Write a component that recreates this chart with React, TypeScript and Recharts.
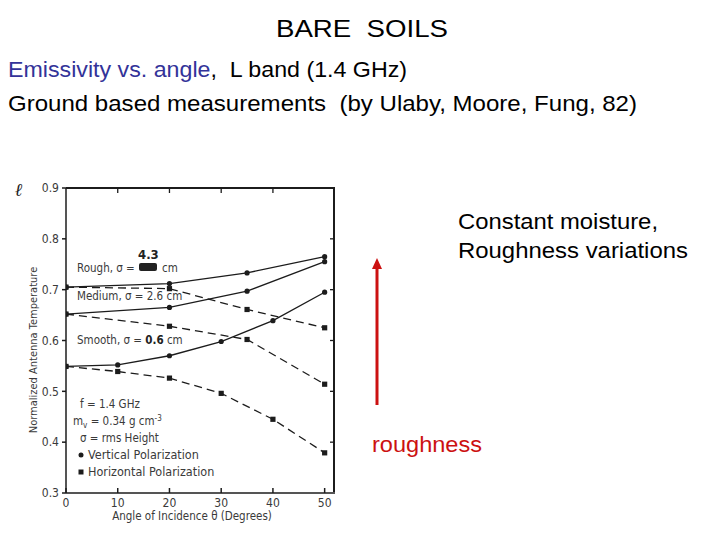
import React from 'react';
import { LineChart, Line, XAxis, YAxis } from 'recharts';

// ---- data ----
const ANGLES_SPARSE = [0, 20, 35, 50];
const ANGLES_FULL = [0, 10, 20, 30, 40, 50];
const ROUGH_V = [0.705, 0.712, 0.733, 0.765];
const ROUGH_H = [0.705, 0.702, 0.661, 0.625];
const MEDIUM_V = [0.652, 0.665, 0.697, 0.755];
const MEDIUM_H = [0.652, 0.628, 0.602, 0.514];
const SMOOTH_V = [0.549, 0.552, 0.57, 0.598, 0.639, 0.695];
const SMOOTH_H = [0.549, 0.539, 0.526, 0.496, 0.445, 0.379];
const X_TICKS = [0, 10, 20, 30, 40, 50];
const Y_TICKS = [0.3, 0.4, 0.5, 0.6, 0.7, 0.8, 0.9];
const X_MAX = 52;
const Y_MIN = 0.3;
const Y_MAX = 0.9;

const toRows = (angles: number[], vals: number[]) => angles.map((a, i) => ({ angle: a, v: vals[i] }));

// layout of the plot box
const CW = 720;
const CH = 540;
const MARGIN = { top: 188, right: 385, bottom: 17, left: 26 };
const Y_AXIS_W = 40;
const X_AXIS_H = 30;
const PL = MARGIN.left + Y_AXIS_W;
const PR = CW - MARGIN.right;
const PT = MARGIN.top;
const PB = CH - MARGIN.bottom - X_AXIS_H;
const sx = (v: number) => PL + (v / X_MAX) * (PR - PL);
const sy = (v: number) => PB - ((v - Y_MIN) / (Y_MAX - Y_MIN)) * (PB - PT);

const INK = '#1c1c1c';
const GREY = '#3a3a3a';
const COND = "'DejaVu Sans Condensed', 'Liberation Sans Narrow', 'DejaVu Sans', sans-serif";
const ARIAL = "'Liberation Sans', Arial, sans-serif";

const Dot = (p: any) => {
  if (p.cx == null || p.cy == null) return null;
  return <circle key={`c${p.index}`} cx={p.cx} cy={p.cy} r={2.6} fill={INK} />;
};
const Sq = (p: any) => {
  if (p.cx == null || p.cy == null) return null;
  return <rect key={`s${p.index}`} x={p.cx - 2.6} y={p.cy - 2.6} width={5.2} height={5.2} fill={INK} />;
};

const series = [
  { name: 'roughV', data: toRows(ANGLES_SPARSE, ROUGH_V), h: false },
  { name: 'roughH', data: toRows(ANGLES_SPARSE, ROUGH_H), h: true },
  { name: 'mediumV', data: toRows(ANGLES_SPARSE, MEDIUM_V), h: false },
  { name: 'mediumH', data: toRows(ANGLES_SPARSE, MEDIUM_H), h: true },
  { name: 'smoothV', data: toRows(ANGLES_FULL, SMOOTH_V), h: false },
  { name: 'smoothH', data: toRows(ANGLES_FULL, SMOOTH_H), h: true },
];

export default function App() {
  const tickStyle = { fontSize: 12, fill: GREY, fontFamily: COND };
  return (
    <div style={{ position: 'absolute', left: 0, top: 0, width: CW, height: CH, background: '#fff' }}>
      <LineChart width={CW} height={CH} margin={MARGIN}>
        <XAxis
          dataKey="angle"
          type="number"
          domain={[0, X_MAX]}
          allowDataOverflow
          ticks={X_TICKS}
          height={X_AXIS_H}
          tickSize={-5}
          tickMargin={10}
          stroke={INK}
          strokeWidth={1.5}
          tick={tickStyle}
        />
        <YAxis
          type="number"
          domain={[Y_MIN, Y_MAX]}
          allowDataOverflow
          ticks={Y_TICKS}
          width={Y_AXIS_W}
          tickSize={4}
          tickMargin={3}
          tickFormatter={(v: number) => v.toFixed(1)}
          stroke={INK}
          strokeWidth={1.5}
          tick={tickStyle}
        />
        {series.map((s) => (
          <Line
            key={s.name}
            data={s.data}
            dataKey="v"
            type="linear"
            stroke={INK}
            strokeWidth={1.3}
            strokeDasharray={s.h ? '8 5' : undefined}
            dot={s.h ? Sq : Dot}
            activeDot={false}
            isAnimationActive={false}
            connectNulls
          />
        ))}
      </LineChart>

      {/* top and right borders of the plot box */}
      <div
        style={{
          position: 'absolute',
          left: PL,
          top: PT - 1,
          width: PR - PL,
          height: PB - PT,
          borderTop: `2px solid ${INK}`,
          borderRight: `2px solid ${INK}`,
          boxSizing: 'border-box',
          pointerEvents: 'none',
        }}
      />

      <svg width={CW} height={CH} style={{ position: 'absolute', left: 0, top: 0, pointerEvents: 'none' }}>
        {X_TICKS.slice(1, 5).map((t) => (
          <line key={`tt${t}`} x1={sx(t)} x2={sx(t)} y1={PT} y2={PT + 5} stroke={INK} strokeWidth={1.3} />
        ))}
        {Y_TICKS.slice(1, 6).map((t) => (
          <line key={`rt${t}`} x1={PR} x2={PR - 5} y1={sy(t)} y2={sy(t)} stroke={INK} strokeWidth={1.3} />
        ))}

        {/* slide texts */}
        <text x={276} y={37} fontFamily={ARIAL} fontSize={24} fill="#000" textLength={172} lengthAdjust="spacingAndGlyphs" xmlSpace="preserve">
          BARE  SOILS
        </text>
        <text x={8} y={77} fontFamily={ARIAL} fontSize={22} fill="#000" textLength={399} lengthAdjust="spacingAndGlyphs" xmlSpace="preserve">
          <tspan fill="#333399">Emissivity vs. angle</tspan>,  L band (1.4 GHz)
        </text>
        <text x={8} y={111} fontFamily={ARIAL} fontSize={22} fill="#000" textLength={629} lengthAdjust="spacingAndGlyphs" xmlSpace="preserve">
          Ground based measurements  (by Ulaby, Moore, Fung, 82)
        </text>
        <text x={458} y={229} fontFamily={ARIAL} fontSize={22} fill="#000" textLength={200} lengthAdjust="spacingAndGlyphs">
          Constant moisture,
        </text>
        <text x={458} y={258} fontFamily={ARIAL} fontSize={22} fill="#000" textLength={230} lengthAdjust="spacingAndGlyphs">
          Roughness variations
        </text>
        <text x={372} y={452} fontFamily={ARIAL} fontSize={22} fill="#cc1111" textLength={110} lengthAdjust="spacingAndGlyphs">
          roughness
        </text>
        <line x1={377} y1={405} x2={377} y2={266} stroke="#cc1111" strokeWidth={3} />
        <polygon points="377,258 372,269 382,269" fill="#cc1111" />

        {/* chart annotations */}
        <text x={15} y={196} fontFamily="'DejaVu Serif', serif" fontStyle="italic" fontWeight="bold" fontSize={18} fill={INK}>ℓ</text>
        <text
          x={33}
          y={350}
          transform="rotate(-90 33 350)"
          textAnchor="middle"
          dominantBaseline="central"
          fontFamily={COND}
          fontSize={11}
          fill={GREY}
        >
          Normalized Antenna Temperature
        </text>
        <text x={192} y={520} textAnchor="middle" fontFamily={COND} fontSize={11.5} fill={GREY}>
          Angle of Incidence θ (Degrees)
        </text>

        <text x={77} y={272} fontFamily={COND} fontSize={11.5} fill={GREY}>Rough, σ =</text>
        <rect x={139} y={263} width={18} height={8} rx={2} fill="#222" />
        <text x={162} y={272} fontFamily={COND} fontSize={11.5} fill={GREY}>cm</text>
        <text x={138} y={259} fontFamily={COND} fontSize={13} fontWeight="bold" fill="#222">4.3</text>
        <text x={77} y={300} fontFamily={COND} fontSize={11.5} fill={GREY}>Medium, σ = 2.6 cm</text>
        <text x={77} y={344} fontFamily={COND} fontSize={11.5} fill={GREY}>
          Smooth, σ = <tspan fontWeight="bold" fill="#222">0.6</tspan> cm
        </text>

        <text x={80} y={408} fontFamily={COND} fontSize={11.5} fill={GREY}>f = 1.4 GHz</text>
        <text x={73} y={425} fontFamily={COND} fontSize={11.5} fill={GREY}>
          m<tspan fontSize={8} dy={3}>v</tspan>
          <tspan dy={-3}> = 0.34 g cm</tspan>
          <tspan fontSize={8} dy={-4}>-3</tspan>
        </text>
        <text x={80} y={442} fontFamily={COND} fontSize={11.5} fill={GREY}>σ = rms Height</text>
        <circle cx={81} cy={455} r={2.5} fill={INK} />
        <text x={88} y={459} fontFamily={COND} fontSize={12.5} fill={GREY}>Vertical Polarization</text>
        <rect x={78.5} y={469.5} width={5} height={5} fill={INK} />
        <text x={88} y={476} fontFamily={COND} fontSize={12.5} fill={GREY}>Horizontal Polarization</text>
      </svg>
    </div>
  );
}
